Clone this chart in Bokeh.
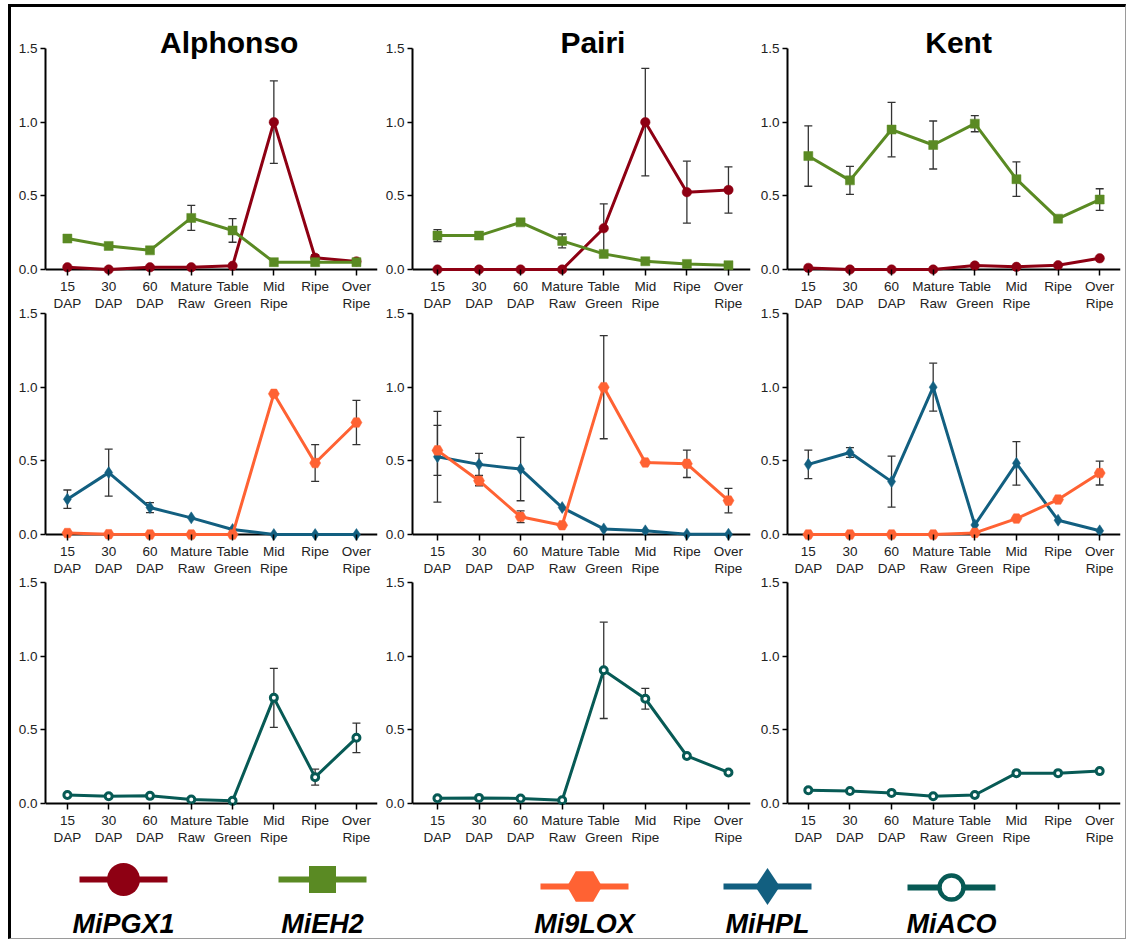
from bokeh.plotting import figure
from bokeh.models import (Range1d, FixedTicker, ColumnDataSource, Whisker, TeeHead,
                          PrintfTickFormatter, Span)
from bokeh.layouts import column, row
from bokeh.embed import file_html
from bokeh.resources import INLINE
from bokeh.core.properties import value

# ---------------- data ----------------
stages = ["15\nDAP", "30\nDAP", "60\nDAP", "Mature\nRaw", "Table\nGreen", "Mid\nRipe", "Ripe", "Over\nRipe"]
cultivars = ["Alphonso", "Pairi", "Kent"]
genes = ["MiPGX1", "MiEH2", "Mi9LOX", "MiHPL", "MiACO"]

alphonso_pgx1 = [0.015, 0.0, 0.015, 0.015, 0.025, 1.0, 0.08, 0.055]
alphonso_pgx1_err = [0, 0, 0, 0, 0, 0.28, 0.02, 0]
alphonso_eh2 = [0.21, 0.16, 0.13, 0.35, 0.265, 0.05, 0.05, 0.05]
alphonso_eh2_err = [0.02, 0, 0, 0.085, 0.08, 0, 0, 0]
alphonso_9lox = [0.01, 0.002, 0.0, 0.0, 0.0, 0.955, 0.485, 0.76]
alphonso_9lox_err = [0, 0, 0, 0, 0, 0, 0.125, 0.15]
alphonso_hpl = [0.24, 0.42, 0.183, 0.113, 0.034, 0.0, 0.0, 0.0]
alphonso_hpl_err = [0.062, 0.16, 0.034, 0, 0, 0, 0, 0]
alphonso_aco = [0.058, 0.049, 0.052, 0.027, 0.018, 0.717, 0.179, 0.446]
alphonso_aco_err = [0, 0, 0, 0, 0, 0.2, 0.054, 0.1]

pairi_pgx1 = [0.0, 0.0, 0.0, 0.0, 0.28, 1.0, 0.525, 0.54]
pairi_pgx1_err = [0, 0, 0, 0, 0.165, 0.365, 0.21, 0.157]
pairi_eh2 = [0.23, 0.23, 0.32, 0.194, 0.106, 0.056, 0.038, 0.029]
pairi_eh2_err = [0.04, 0, 0, 0.047, 0, 0, 0, 0]
pairi_9lox = [0.571, 0.365, 0.12, 0.063, 1.0, 0.489, 0.48, 0.23]
pairi_9lox_err = [0.17, 0.034, 0.04, 0, 0.35, 0, 0.093, 0.083]
pairi_hpl = [0.528, 0.476, 0.444, 0.183, 0.038, 0.025, 0.002, 0.002]
pairi_hpl_err = [0.308, 0.075, 0.215, 0, 0, 0, 0, 0]
pairi_aco = [0.036, 0.038, 0.034, 0.022, 0.904, 0.711, 0.323, 0.211]
pairi_aco_err = [0, 0, 0, 0, 0.327, 0.07, 0, 0]

kent_pgx1 = [0.011, 0.0, 0.0, 0.0, 0.027, 0.018, 0.029, 0.076]
kent_pgx1_err = [0, 0, 0, 0, 0, 0, 0, 0]
kent_eh2 = [0.77, 0.605, 0.95, 0.845, 0.99, 0.613, 0.345, 0.475]
kent_eh2_err = [0.205, 0.095, 0.185, 0.163, 0.055, 0.117, 0, 0.073]
kent_9lox = [0.0, 0.0, 0.0, 0.0, 0.011, 0.108, 0.237, 0.417]
kent_9lox_err = [0, 0, 0, 0, 0, 0, 0, 0.081]
kent_hpl = [0.476, 0.557, 0.359, 1.0, 0.065, 0.483, 0.097, 0.025]
kent_hpl_err = [0.097, 0.033, 0.173, 0.163, 0, 0.148, 0, 0]
kent_aco = [0.09, 0.085, 0.072, 0.049, 0.058, 0.206, 0.206, 0.22]
kent_aco_err = [0, 0, 0, 0, 0, 0, 0, 0]

means = {
    ("Alphonso", "MiPGX1"): (alphonso_pgx1, alphonso_pgx1_err),
    ("Alphonso", "MiEH2"): (alphonso_eh2, alphonso_eh2_err),
    ("Alphonso", "Mi9LOX"): (alphonso_9lox, alphonso_9lox_err),
    ("Alphonso", "MiHPL"): (alphonso_hpl, alphonso_hpl_err),
    ("Alphonso", "MiACO"): (alphonso_aco, alphonso_aco_err),
    ("Pairi", "MiPGX1"): (pairi_pgx1, pairi_pgx1_err),
    ("Pairi", "MiEH2"): (pairi_eh2, pairi_eh2_err),
    ("Pairi", "Mi9LOX"): (pairi_9lox, pairi_9lox_err),
    ("Pairi", "MiHPL"): (pairi_hpl, pairi_hpl_err),
    ("Pairi", "MiACO"): (pairi_aco, pairi_aco_err),
    ("Kent", "MiPGX1"): (kent_pgx1, kent_pgx1_err),
    ("Kent", "MiEH2"): (kent_eh2, kent_eh2_err),
    ("Kent", "Mi9LOX"): (kent_9lox, kent_9lox_err),
    ("Kent", "MiHPL"): (kent_hpl, kent_hpl_err),
    ("Kent", "MiACO"): (kent_aco, kent_aco_err),
}

# ---------------- styles ----------------
colors = {"MiPGX1": "#8E0013", "MiEH2": "#5A8A23", "Mi9LOX": "#FF6233",
          "MiHPL": "#125F80", "MiACO": "#075A55"}
# marker, size, fill, line width
mstyle = {"MiPGX1": ("circle", 9.5, None, 0.5), "MiEH2": ("square", 9, None, 0.5),
          "Mi9LOX": ("hex", 11, None, 0.5), "MiHPL": ("diamond", 12, None, 0.5),
          "MiACO": ("circle", 7, "white", 3)}
lstyle = {"MiPGX1": ("circle", 33, None, 0), "MiEH2": ("square", 27, None, 0),
          "Mi9LOX": ("hex", 35, None, 0), "MiHPL": ("diamond", 37, None, 0),
          "MiACO": ("circle", 24, "white", 4.5)}
row_genes = [["MiPGX1", "MiEH2"], ["MiHPL", "Mi9LOX"], ["MiACO"]]

FONT = "Liberation Sans"
col_w = [369, 377, 368]
col_bl = [34, 32, 30]
col_br = [3, 7, 5]
col_xr = [(-0.53, 7.51), (-0.6, 7.53), (-0.5, 7.5)]
row_h = [314, 283, 283]
row_bb = [46, 46, 46]
row_mt = [0, -18, -14]
row_yr = [(-0.0407, 1.7783), (-0.0407, 1.5679), (-0.0407, 1.5679)]
title_x = [3.92, 3.74, 3.61]
title_y = 1.5441

x_idx = list(range(len(stages)))

rows = []
for ri, glist in enumerate(row_genes):
    figs = []
    for ci, cult in enumerate(cultivars):
        p = figure(width=col_w[ci], height=row_h[ri],
                   x_range=Range1d(*col_xr[ci]), y_range=Range1d(*row_yr[ri]),
                   output_backend="svg", toolbar_location=None,
                   min_border_left=col_bl[ci], min_border_right=col_br[ci],
                   min_border_top=0, min_border_bottom=row_bb[ri])
        p.outline_line_color = None
        p.grid.visible = False
        p.background_fill_color = None
        p.border_fill_color = None

        xa = p.xaxis[0]
        xa.ticker = FixedTicker(ticks=x_idx)
        xa.major_label_overrides = {i: s for i, s in enumerate(stages)}
        xa.axis_line_color = None
        xa.major_tick_out = 0
        xa.major_tick_in = 6
        xa.major_tick_line_width = 1.5
        xa.major_tick_line_color = "black"
        xa.minor_tick_out = 0
        xa.minor_tick_in = 0
        xa.major_label_standoff = 3
        xa.major_label_text_font = FONT
        xa.major_label_text_font_size = "13.5px"
        xa.major_label_text_color = "#222222"
        xa.major_label_text_line_height = 1.15

        ya = p.yaxis[0]
        ya.ticker = FixedTicker(ticks=[0, 0.5, 1.0, 1.5])
        ya.formatter = PrintfTickFormatter(format="%.1f")
        ya.bounds = (0, 1.5)
        ya.axis_line_width = 2
        ya.axis_line_color = "black"
        ya.major_tick_out = 5
        ya.major_tick_in = 0
        ya.major_tick_line_width = 1.5
        ya.minor_tick_out = 0
        ya.minor_tick_in = 0
        ya.major_label_standoff = 3
        ya.major_label_text_font = FONT
        ya.major_label_text_font_size = "13.5px"
        ya.major_label_text_color = "#222222"

        p.add_layout(Span(location=0, dimension="width", line_color="black",
                          line_width=2, level="underlay"))

        for g in glist:
            vals, errs = means[(cult, g)]
            col = colors[g]
            src = ColumnDataSource(dict(x=x_idx, y=vals))
            ex = [x for x, e in zip(x_idx, errs) if e > 0]
            eu = [v + e for v, e in zip(vals, errs) if e > 0]
            el = [v - e for v, e in zip(vals, errs) if e > 0]
            if ex:
                esrc = ColumnDataSource(dict(x=ex, upper=eu, lower=el))
                w = Whisker(source=esrc, base="x", upper="upper", lower="lower",
                            line_color="#333333", line_width=1.3,
                            upper_head=TeeHead(size=8, line_color="#333333", line_width=1.3),
                            lower_head=TeeHead(size=8, line_color="#333333", line_width=1.3))
                p.add_layout(w)
            p.line("x", "y", source=src, line_color=col, line_width=3)
            mk, sz, fill, lw = mstyle[g]
            p.scatter("x", "y", source=src, marker=mk, size=sz,
                      fill_color=fill if fill else col, line_color=col, line_width=lw)

        if ri == 0:
            p.text(x=[title_x[ci]], y=[title_y], text=[cult], text_align="center",
                   text_baseline="middle", text_font=value(FONT),
                   text_font_style="bold", text_font_size="30px", text_color="black")
        figs.append(p)
    rows.append(row(*figs, margin=(row_mt[ri], 0, 0, 0)))

# ---------------- legend ----------------
legend_cx = [112, 311, 573, 756, 940]
legend_my = [33, 33, 40, 40, 41]
legend_half = 44
legend_text_y = 77

lg = figure(width=1114, height=92, x_range=Range1d(0, 1114), y_range=Range1d(92, 0),
            output_backend="svg", toolbar_location=None, x_axis_type=None, y_axis_type=None,
            min_border=0, margin=(-9, 0, 0, 0))
lg.outline_line_color = None
lg.grid.visible = False
lg.background_fill_color = None
lg.border_fill_color = None
for g, cx, my in zip(genes, legend_cx, legend_my):
    col = colors[g]
    lg.segment(x0=[cx - legend_half], y0=[my], x1=[cx + legend_half], y1=[my],
               line_color=col, line_width=6)
    mk, sz, fill, lw = lstyle[g]
    lg.scatter(x=[cx], y=[my], marker=mk, size=sz, fill_color=fill if fill else col,
               line_color=col, line_width=lw)
lg.text(x=legend_cx, y=[legend_text_y] * len(genes), text=genes, text_align="center",
        text_baseline="middle", text_font=value(FONT), text_font_style="bold italic",
        text_font_size="27px", text_color="black")

layout = column(*rows, lg, margin=(4, 0, 0, 8),
                styles={"border-top": "3px solid #000",
                        "border-left": "3px solid #000",
                        "border-right": "1px solid #9a9a9a",
                        "border-bottom": "1px solid #9a9a9a",
                        "background-color": "white"})

open("out.html", "w").write(file_html(layout, INLINE))
